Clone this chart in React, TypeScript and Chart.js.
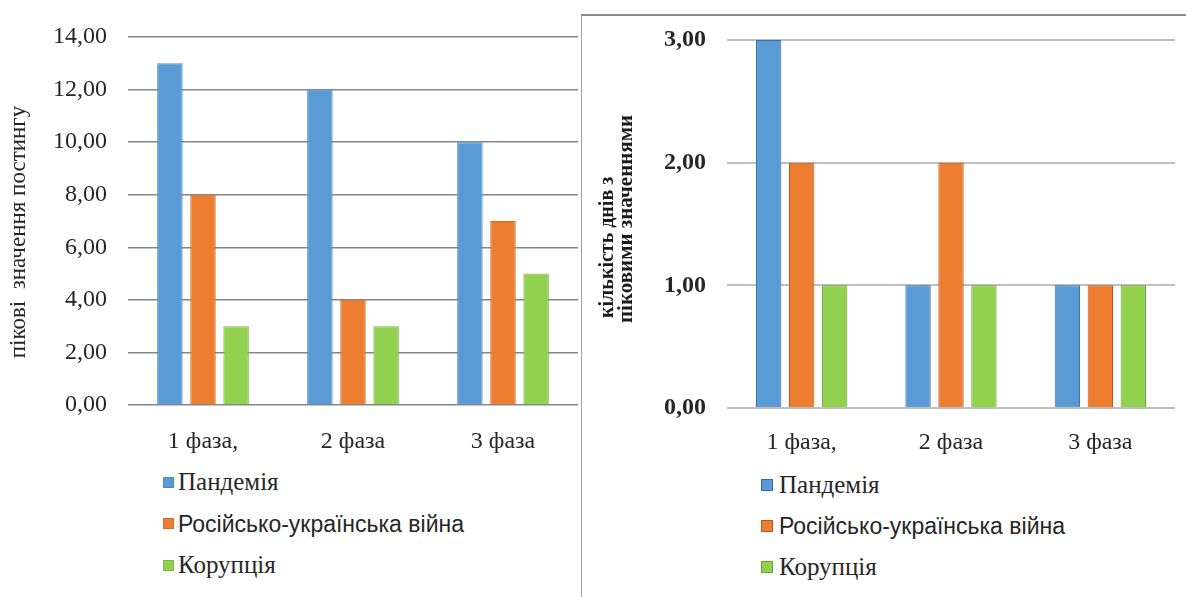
import React, { useEffect, useRef } from 'react';
import { Chart, registerables } from 'chart.js';

Chart.register(...registerables);

const categories = ['1 фаза,', '2 фаза', '3 фаза'];
const seriesNames = ['Пандемія', 'Російсько-українська війна', 'Корупція'];

// Left panel: peak posting values
const peakPandemic = [13, 12, 10];
const peakWar = [8, 4, 7];
const peakCorruption = [3, 3, 5];
const leftTicks = [0, 2, 4, 6, 8, 10, 12, 14];

// Right panel: number of days with peak values
const daysPandemic = [3, 1, 1];
const daysWar = [2, 2, 1];
const daysCorruption = [1, 1, 1];
const rightTicks = [0, 1, 2, 3];

const fillColors = ['#5B9BD5', '#ED7D31', '#92D050'];
const leftBorders = ['#4E8BC6', '#D06F2A', '#7FB845'];
const rightBorders = ['#2F6EA8', '#BF5516', '#6AA433'];
const legendFonts = [
  '25px "Liberation Serif", "Times New Roman", serif',
  '23px "Liberation Sans Narrow", "Arial Narrow", "Liberation Sans", sans-serif',
  '25px "Liberation Serif", "Times New Roman", serif',
];

const fmt = (v: number) => v.toFixed(2).replace('.', ',');

const rotTitle = {
  id: 'rotTitle',
  afterDraw(chart: any, _args: any, opts: any) {
    const ctx = chart.ctx;
    ctx.save();
    ctx.fillStyle = opts.color;
    ctx.textBaseline = 'middle';
    for (const l of opts.lines) {
      ctx.save();
      ctx.font = l.font;
      ctx.translate(l.x, l.y);
      ctx.rotate(-Math.PI / 2);
      ctx.textAlign = l.align;
      ctx.fillText(l.text, 0, 0);
      ctx.restore();
    }
    ctx.restore();
  },
};

function makeConfig(opts: any) {
  const { values, borders, ticks, padding, yWidth, xHeight, tickFont, xFont, gridColor, gridWidth, xPad, title } = opts;
  return {
    type: 'bar' as const,
    data: {
      labels: categories,
      datasets: values.map((vals: number[], i: number) => ({
        label: seriesNames[i],
        data: vals,
        backgroundColor: fillColors[i],
        borderColor: borders[i],
        borderWidth: 1,
        categoryPercentage: 0.662,
        barPercentage: 0.77,
      })),
    },
    options: {
      responsive: false,
      animation: false,
      layout: { padding },
      plugins: {
        legend: { display: false },
        title: { display: false },
        tooltip: { enabled: false },
        rotTitle: title,
      },
      scales: {
        x: {
          grid: { display: false },
          border: { display: false },
          ticks: { color: '#262626', font: xFont, padding: xPad, maxRotation: 0 },
          afterFit: (s: any) => { s.height = xHeight; s.paddingLeft = 0; s.paddingRight = 0; },
        },
        y: {
          min: 0,
          max: ticks[ticks.length - 1],
          border: { display: false },
          grid: { color: gridColor, lineWidth: gridWidth, drawTicks: false },
          ticks: { color: '#262626', font: tickFont, padding: 21, callback: (v: any) => fmt(Number(v)) },
          afterBuildTicks: (s: any) => { s.ticks = ticks.map((v: number) => ({ value: v })); },
          afterFit: (s: any) => { s.width = yWidth; s.paddingTop = 0; s.paddingBottom = 0; },
        },
      },
    },
    plugins: [rotTitle],
  };
}

function Legend({ left, top, gap, marker, textX, borders }: any) {
  return (
    <>
      {seriesNames.map((name, i) => (
        <div key={name} style={{ position: 'absolute', left, top: top + i * gap - 15, height: 30, display: 'flex', alignItems: 'center', whiteSpace: 'nowrap' }}>
          <div style={{ width: marker, height: marker, background: fillColors[i], border: `1px solid ${borders[i]}`, boxSizing: 'border-box', marginRight: textX - left - marker }} />
          <span style={{ font: legendFonts[i], color: '#262626', lineHeight: '30px' }}>{name}</span>
        </div>
      ))}
    </>
  );
}

export default function App() {
  const leftRef = useRef<HTMLCanvasElement>(null);
  const rightRef = useRef<HTMLCanvasElement>(null);

  useEffect(() => {
    const serif = '"Liberation Serif", "Times New Roman", serif';
    const left = new Chart(leftRef.current as HTMLCanvasElement, makeConfig({
      values: [peakPandemic, peakWar, peakCorruption],
      borders: leftBorders,
      ticks: leftTicks,
      padding: { top: 37, right: 2, left: 0, bottom: 0 },
      yWidth: 128,
      xHeight: 55,
      tickFont: { family: serif, size: 24 },
      xFont: { family: serif, size: 24 },
      gridColor: '#868686',
      gridWidth: 1.5,
      xPad: 14,
      title: {
        color: '#262626',
        lines: [{ text: 'пікові  значення постингу', x: 19, y: 232, align: 'center', font: `23px ${serif}` }],
      },
    }) as any);
    const right = new Chart(rightRef.current as HTMLCanvasElement, makeConfig({
      values: [daysPandemic, daysWar, daysCorruption],
      borders: rightBorders,
      ticks: rightTicks,
      padding: { top: 24, right: 11, left: 0, bottom: 0 },
      yWidth: 144,
      xHeight: 52,
      tickFont: { family: serif, size: 24, weight: 'bold' },
      xFont: { family: serif, size: 24 },
      gridColor: '#bfbfbf',
      gridWidth: 2,
      xPad: 12,
      title: {
        color: '#1a1a1a',
        lines: [
          { text: 'кількість днів з', x: 25, y: 302, align: 'left', font: `bold 20px ${serif}` },
          { text: 'піковими значеннями', x: 44, y: 307, align: 'left', font: `bold 21px ${serif}` },
        ],
      },
    }) as any);
    return () => { left.destroy(); right.destroy(); };
  }, []);

  return (
    <div style={{ position: 'fixed', left: 0, top: 0, width: 1186, height: 597, background: '#fff', overflow: 'hidden' }}>
      <canvas ref={leftRef} width={580} height={460} style={{ position: 'absolute', left: 0, top: 0 }} />
      <div style={{ position: 'absolute', left: 581, top: 14, width: 605, height: 583, borderTop: '2px solid #8a8a8a', borderLeft: '1px solid #a0a0a0', boxSizing: 'border-box' }} />
      <canvas ref={rightRef} width={603} height={444} style={{ position: 'absolute', left: 583, top: 16 }} />
      <Legend left={163} top={482} gap={41.5} marker={11} textX={178} borders={leftBorders} />
      <Legend left={761} top={485} gap={41} marker={12} textX={779} borders={rightBorders} />
    </div>
  );
}
